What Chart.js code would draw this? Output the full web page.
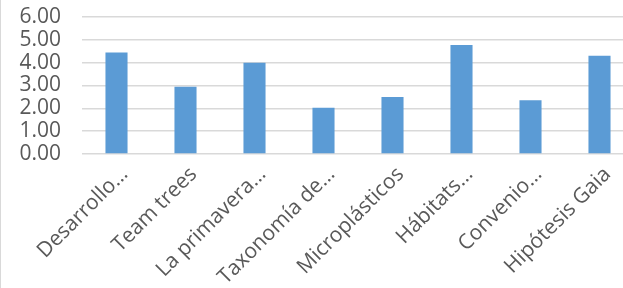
<!DOCTYPE html>
<html>
<head>
<meta charset="utf-8">
<script src="https://cdn.jsdelivr.net/npm/chart.js@4/dist/chart.umd.min.js"></script>
<style>
  html, body { margin: 0; padding: 0; background: #fff; }
  #wrap { position: relative; width: 623px; height: 288px; overflow: hidden; background: #fff; }
  #frame { position: absolute; left: 0; top: 0; width: 1px; height: 288px; background: #d9d9d9; }
  canvas { position: absolute; left: 0; top: 0; }
</style>
</head>
<body>
<div id="wrap">
  <canvas id="c" width="634" height="288" style="width:634px;height:288px"></canvas>
  <div id="frame"></div>
</div>
<script>
const categories = ["Desarrollo…", "Team trees", "La primavera…", "Taxonomía de…", "Microplásticos", "Hábitats…", "Convenio…", "Hipótesis Gaia"];
const values = [4.45, 2.95, 4.00, 2.03, 2.50, 4.77, 2.35, 4.30];
const yTicks = [0, 1, 2, 3, 4, 5, 6];

const font = { family: "'Open Sans', sans-serif", size: 21 };
const textColor = '#595959';

new Chart(document.getElementById('c'), {
  type: 'bar',
  data: {
    labels: categories,
    datasets: [{
      data: values,
      backgroundColor: '#5b9bd5',
      borderWidth: 0,
      categoryPercentage: 1,
      barPercentage: 0.32
    }]
  },
  options: {
    responsive: false,
    animation: false,
    devicePixelRatio: 1,
    layout: { padding: { left: 0, right: 0, top: 17, bottom: 0 } },
    plugins: { legend: { display: false }, tooltip: { enabled: false } },
    scales: {
      x: {
        grid: { display: false },
        border: { display: false },
        ticks: {
          color: textColor, font: font,
          minRotation: 45, maxRotation: 45, autoSkip: false, padding: 0, labelOffset: 8
        },
        afterFit: (s) => { s.height = 134; s.paddingLeft = 0; s.paddingRight = 0; }
      },
      y: {
        min: 0, max: 6,
        afterBuildTicks: (s) => { s.ticks = yTicks.map(v => ({ value: v })); },
        grid: { color: '#d9d9d9', lineWidth: 1.5, drawTicks: false },
        border: { display: false },
        ticks: {
          color: textColor, font: font, padding: 21, autoSkip: false,
          callback: (v) => Number(v).toFixed(2)
        },
        afterFit: (s) => { s.width = 82; s.paddingTop = 0; s.paddingBottom = 0; }
      }
    }
  }
});
</script>
</body>
</html>
